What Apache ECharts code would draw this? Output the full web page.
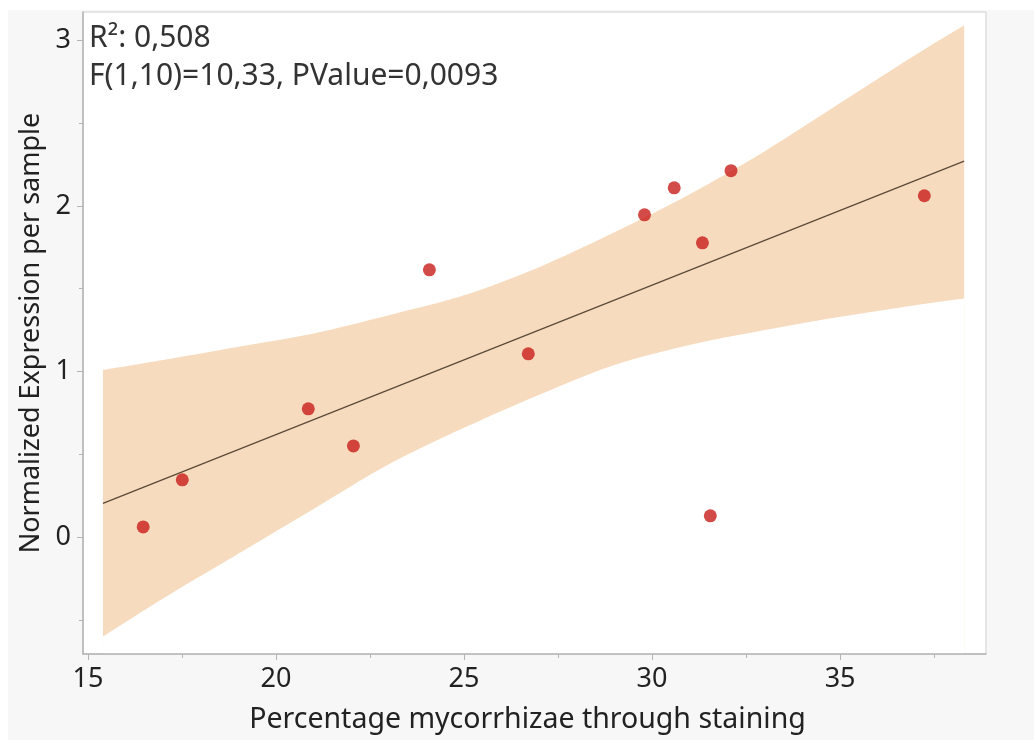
<!DOCTYPE html>
<html>
<head>
<meta charset="utf-8">
<script src="https://cdn.jsdelivr.net/npm/echarts@6/dist/echarts.min.js"></script>
<style>
html,body{margin:0;padding:0;background:#fff;}
#chart{width:1034px;height:740px;}
</style>
</head>
<body>
<div id="chart"></div>
<script>
// Observed points
var pointX = [16.47, 17.51, 20.86, 22.06, 24.08, 26.71, 29.80, 30.59, 31.34, 31.55, 32.10, 37.24];
var pointY = [0.062, 0.346, 0.775, 0.551, 1.614, 1.107, 1.946, 2.109, 1.777, 0.129, 2.212, 2.061];
// Fitted line end points
var fitX = [15.4, 38.3];
var fitY = [0.204, 2.270];
// Confidence band edges
var bandX = [15.4, 17, 19, 21, 23, 25, 27, 29, 31, 33, 35, 37, 38.3];
var bandUpper = [1.01, 1.07, 1.15, 1.23, 1.34, 1.46, 1.63, 1.84, 2.07, 2.33, 2.62, 2.91, 3.09];
var bandLower = [-0.60, -0.37, -0.10, 0.17, 0.44, 0.66, 0.86, 1.04, 1.16, 1.25, 1.33, 1.40, 1.44];
// Tick values
var xMajorTicks = [15, 20, 25, 30, 35];
var xMinorTicks = [17.5, 22.5, 27.5, 32.5, 37.5];
var yMajorTicks = [0, 1, 2, 3];
var yMinorTicks = [-0.5, 0.5, 1.5, 2.5];
var statLines = ['R²: 0,508', 'F(1,10)=10,33, PValue=0,0093'];
var xTitle = 'Percentage mycorrhizae through staining';
var yTitle = 'Normalized Expression per sample';

var FONT = 'Noto Sans';
var chart = echarts.init(document.getElementById('chart'));

var upperData = bandX.map(function (x, i) { return [x, bandUpper[i]]; });
var lowerData = bandX.map(function (x, i) { return [x, bandLower[i]]; });
var fitData = fitX.map(function (x, i) { return [x, fitY[i]]; });
var ptsData = pointX.map(function (x, i) { return [x, pointY[i]]; });

var xMin = 14.87, xMax = 38.88, yMin = -0.705, yMax = 3.17;

function xAxisBase(extra) {
  return Object.assign({
    type: 'value', min: xMin, max: xMax, position: 'bottom', z: 10,
    splitLine: { show: false }
  }, extra);
}
function yAxisBase(extra) {
  return Object.assign({
    type: 'value', min: yMin, max: yMax, position: 'left', z: 10,
    splitLine: { show: false }
  }, extra);
}

chart.setOption({
  backgroundColor: '#ffffff',
  animation: false,
  graphic: [
    { type: 'rect', z: -100, shape: { x: 8, y: 10, width: 1026, height: 730 }, style: { fill: '#f7f7f7' } },
    { type: 'text', z: 100, left: 89, top: 23, style: { text: statLines[0], font: '30px "' + FONT + '"', fill: '#333' } },
    { type: 'text', z: 100, left: 89, top: 61, style: { text: statLines[1], font: '30px "' + FONT + '"', fill: '#333' } }
  ],
  grid: {
    left: 83, top: 12, right: 48, bottom: 86,
    show: true, backgroundColor: '#ffffff', borderColor: '#cfcfcf', borderWidth: 1
  },
  xAxis: [
    xAxisBase({
      name: xTitle, nameLocation: 'middle', nameGap: 51,
      nameTextStyle: { fontFamily: FONT, fontSize: 28.5, color: '#222', padding: [0, 14, 0, 0] },
      axisLine: { show: true, onZero: false, lineStyle: { color: '#b4b4b4', width: 1.5 } },
      axisTick: { show: true, length: 6, customValues: xMajorTicks, lineStyle: { color: '#b4b4b4' } },
      axisLabel: { show: true, customValues: xMajorTicks, margin: 12, fontFamily: FONT, fontSize: 27, color: '#222' }
    }),
    xAxisBase({
      axisLine: { show: false, onZero: false },
      axisTick: { show: true, length: 4, customValues: xMinorTicks, lineStyle: { color: '#b4b4b4' } },
      axisLabel: { show: false }
    })
  ],
  yAxis: [
    yAxisBase({
      name: yTitle, nameLocation: 'middle', nameGap: 37,
      nameTextStyle: { fontFamily: FONT, fontSize: 27, color: '#222' },
      axisLine: { show: true, onZero: false, lineStyle: { color: '#b4b4b4', width: 1.5 } },
      axisTick: { show: true, length: 6, customValues: yMajorTicks, lineStyle: { color: '#b4b4b4' } },
      axisLabel: { show: true, customValues: yMajorTicks, margin: 12, fontFamily: FONT, fontSize: 27, color: '#222' }
    }),
    yAxisBase({
      axisLine: { show: false, onZero: false },
      axisTick: { show: true, length: 4, customValues: yMinorTicks, lineStyle: { color: '#b4b4b4' } },
      axisLabel: { show: false }
    })
  ],
  series: [
    {
      type: 'line', data: upperData, smooth: 0.3, symbol: 'none',
      lineStyle: { width: 0, opacity: 0 }, areaStyle: { color: '#f7dbbe', opacity: 1, origin: 'start' },
      silent: true, z: 1
    },
    {
      type: 'line', data: lowerData, smooth: 0.3, symbol: 'none',
      lineStyle: { width: 0, opacity: 0 }, areaStyle: { color: '#ffffff', opacity: 1, origin: 'start' },
      silent: true, z: 1
    },
    {
      type: 'line', data: fitData, symbol: 'none',
      lineStyle: { color: '#5b4a3a', width: 1.3 }, z: 2
    },
    {
      type: 'scatter', data: ptsData, symbol: 'circle', symbolSize: 13,
      itemStyle: { color: '#c81e1a' }, z: 3
    }
  ]
});
</script>
</body>
</html>
